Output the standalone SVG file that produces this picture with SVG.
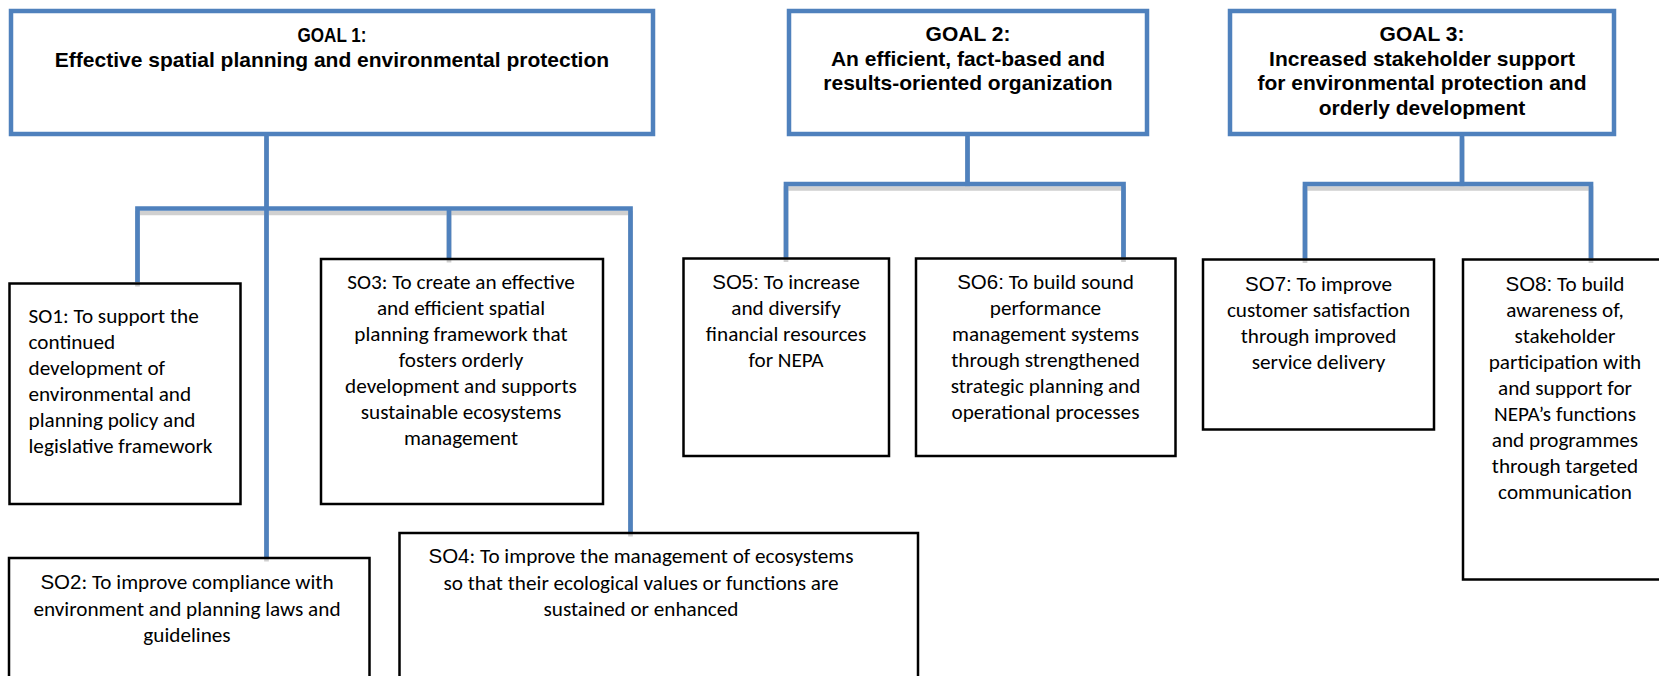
<svg xmlns="http://www.w3.org/2000/svg" width="1659" height="676" viewBox="0 0 1659 676">
<style>
  .goal { fill: none; stroke: #4F81BD; stroke-width: 4.5; }
  .so { fill: none; stroke: #000; stroke-width: 2.5; }
  .gt { font-family: "Liberation Sans", Arial, sans-serif; font-weight: bold; font-size: 21px; fill: #000; text-anchor: middle; }
  .st { font-family: Carlito, Lato, "Liberation Sans", sans-serif; font-size: 21.2px; fill: #000; text-anchor: middle; }
  .sl { text-anchor: start; }
  .ar { font-family: "Liberation Sans", Arial, sans-serif; font-size: 20.5px; }
  .conn { fill: none; stroke: #4F81BD; stroke-width: 4.7; stroke-linejoin: miter; stroke-linecap: butt; }
  .shadow { fill: none; stroke: #D0D0D0; stroke-width: 4.7; stroke-linejoin: miter; }
</style>
<defs>
  <path id="c1" d="M266.5,134 V557"/>
  <path id="c2" d="M137.5,282 V208.5 H630.5 V532"/>
  <path id="c3" d="M449,208.5 V258"/>
  <path id="c4" d="M967.5,134 V184"/>
  <path id="c5" d="M786,257.5 V184 H1123.5 V257.5"/>
  <path id="c6" d="M1462,134 V184"/>
  <path id="c7" d="M1305,258.5 V184 H1591 V258.5"/>
</defs>
<g id="connectors">
  <g class="shadow" transform="translate(0,4.5)">
    <use href="#c1"/><use href="#c2"/><use href="#c3"/><use href="#c4"/><use href="#c5"/><use href="#c6"/><use href="#c7"/>
  </g>
  <g class="conn">
    <use href="#c1"/><use href="#c2"/><use href="#c3"/><use href="#c4"/><use href="#c5"/><use href="#c6"/><use href="#c7"/>
  </g>
</g>
<g id="goal1">
  <rect class="goal" x="11" y="11" width="642" height="123"/>
  <text class="gt" x="332" y="42" textLength="69" lengthAdjust="spacingAndGlyphs">GOAL 1:</text>
  <text class="gt" x="332" y="67">Effective spatial planning and environmental protection</text>
</g>
<g id="goal2">
  <rect class="goal" x="789" y="11" width="358" height="123"/>
  <text class="gt" x="968" y="41">GOAL 2:</text>
  <text class="gt" x="968" y="65.5">An efficient, fact-based and</text>
  <text class="gt" x="968" y="90">results-oriented organization</text>
</g>
<g id="goal3">
  <rect class="goal" x="1230" y="11" width="384" height="123"/>
  <text class="gt" x="1422" y="41">GOAL 3:</text>
  <text class="gt" x="1422" y="65.5">Increased stakeholder support</text>
  <text class="gt" x="1422" y="90">for environmental protection and</text>
  <text class="gt" x="1422" y="114.5">orderly development</text>
</g>
<g id="so1">
  <rect class="so" x="9.5" y="283.5" width="231" height="220.5"/>
  <text class="st sl" x="28.5" y="323">SO1: To support the</text>
  <text class="st sl" x="28.5" y="349">continued</text>
  <text class="st sl" x="28.5" y="375">development of</text>
  <text class="st sl" x="28.5" y="401">environmental and</text>
  <text class="st sl" x="28.5" y="427">planning policy and</text>
  <text class="st sl" x="28.5" y="453">legislative framework</text>
</g>
<g id="so2">
  <rect class="so" x="9" y="558" width="360.5" height="140"/>
  <text class="st" x="187" y="589"><tspan class="ar">SO2</tspan>: To improve compliance with</text>
  <text class="st" x="187" y="615.5">environment and planning laws and</text>
  <text class="st" x="187" y="642">guidelines</text>
</g>
<g id="so3">
  <rect class="so" x="321" y="259" width="282" height="245"/>
  <text class="st" x="461" y="289">SO3: To create an effective</text>
  <text class="st" x="461" y="315">and efficient spatial</text>
  <text class="st" x="461" y="341">planning framework that</text>
  <text class="st" x="461" y="367">fosters orderly</text>
  <text class="st" x="461" y="393">development and supports</text>
  <text class="st" x="461" y="419">sustainable ecosystems</text>
  <text class="st" x="461" y="445">management</text>
</g>
<g id="so4">
  <rect class="so" x="399.5" y="533" width="518.5" height="165"/>
  <text class="st" x="641" y="563"><tspan class="ar">SO4</tspan>: To improve the management of ecosystems</text>
  <text class="st" x="641" y="589.5">so that their ecological values or functions are</text>
  <text class="st" x="641" y="616">sustained or enhanced</text>
</g>
<g id="so5">
  <rect class="so" x="683.5" y="258.5" width="205.5" height="197.5"/>
  <text class="st" x="786" y="289"><tspan class="ar">SO5:</tspan> To increase</text>
  <text class="st" x="786" y="315">and diversify</text>
  <text class="st" x="786" y="341">financial resources</text>
  <text class="st" x="786" y="367">for NEPA</text>
</g>
<g id="so6">
  <rect class="so" x="916" y="258.5" width="259.5" height="197.5"/>
  <text class="st" x="1045.5" y="289"><tspan class="ar">SO6:</tspan> To build sound</text>
  <text class="st" x="1045.5" y="315">performance</text>
  <text class="st" x="1045.5" y="341">management systems</text>
  <text class="st" x="1045.5" y="367">through strengthened</text>
  <text class="st" x="1045.5" y="393">strategic planning and</text>
  <text class="st" x="1045.5" y="419">operational processes</text>
</g>
<g id="so7">
  <rect class="so" x="1203" y="259.5" width="231" height="170"/>
  <text class="st" x="1318.5" y="291"><tspan class="ar">SO7:</tspan> To improve</text>
  <text class="st" x="1318.5" y="317">customer satisfaction</text>
  <text class="st" x="1318.5" y="343">through improved</text>
  <text class="st" x="1318.5" y="369">service delivery</text>
</g>
<g id="so8">
  <rect class="so" x="1463" y="259.5" width="220" height="320"/>
  <text class="st" x="1565" y="291"><tspan class="ar">SO8:</tspan> To build</text>
  <text class="st" x="1565" y="317">awareness of,</text>
  <text class="st" x="1565" y="343">stakeholder</text>
  <text class="st" x="1565" y="369">participation with</text>
  <text class="st" x="1565" y="395">and support for</text>
  <text class="st" x="1565" y="421">NEPA’s functions</text>
  <text class="st" x="1565" y="447">and programmes</text>
  <text class="st" x="1565" y="473">through targeted</text>
  <text class="st" x="1565" y="499">communication</text>
</g>
</svg>
